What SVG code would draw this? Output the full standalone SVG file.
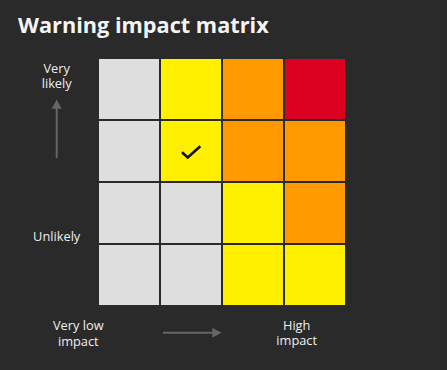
<svg xmlns="http://www.w3.org/2000/svg" width="447" height="370" viewBox="0 0 447 370">
<defs>
<style>
.lbl{font-family:"Open Sans","Liberation Sans",sans-serif;font-size:12.8px;fill:#eeeeee;text-anchor:middle}
.g{fill:#dedede}.y{fill:#fff000}.o{fill:#ff9900}.r{fill:#dc0021}
.ax{stroke:#666666;stroke-width:2;fill:none}
</style>
</defs>
<rect width="447" height="370" fill="#2a2a2a"/>
<text x="18" y="33" font-family="Open Sans, Liberation Sans, sans-serif" font-weight="bold" font-size="21.7" fill="#f5f5f5">Warning impact matrix</text>
<g id="matrix">
<rect class="g" x="99" y="59" width="60" height="60"/>
<rect class="y" x="161" y="59" width="60" height="60"/>
<rect class="o" x="223" y="59" width="60" height="60"/>
<rect class="r" x="285" y="59" width="60" height="60"/>
<rect class="g" x="99" y="121" width="60" height="60"/>
<rect class="y" x="161" y="121" width="60" height="60"/>
<rect class="o" x="223" y="121" width="60" height="60"/>
<rect class="o" x="285" y="121" width="60" height="60"/>
<rect class="g" x="99" y="183" width="60" height="60"/>
<rect class="g" x="161" y="183" width="60" height="60"/>
<rect class="y" x="223" y="183" width="60" height="60"/>
<rect class="o" x="285" y="183" width="60" height="60"/>
<rect class="g" x="99" y="245" width="60" height="60"/>
<rect class="g" x="161" y="245" width="60" height="60"/>
<rect class="y" x="223" y="245" width="60" height="60"/>
<rect class="y" x="285" y="245" width="60" height="60"/>
<path d="M182 152.3 L187.7 157.5 L200.3 146.2" fill="none" stroke="#111" stroke-width="2.6"/>
</g>
<g id="axes">
<line class="ax" x1="56.7" y1="158" x2="56.7" y2="107"/>
<polygon points="56.7,99.5 61.7,108.7 51.7,108.7" fill="#666666"/>
<line class="ax" x1="163" y1="332.7" x2="213" y2="332.7"/>
<polygon points="221.5,332.7 212.3,327.7 212.3,337.7" fill="#666666"/>
</g>
<g id="labels">
<text class="lbl" x="56.7" y="72.7">Very</text>
<text class="lbl" x="56.7" y="88">likely</text>
<text class="lbl" x="56.7" y="241">Unlikely</text>
<text class="lbl" x="78.3" y="330.3">Very low</text>
<text class="lbl" x="78.3" y="345.7">impact</text>
<text class="lbl" x="296.7" y="329.8">High</text>
<text class="lbl" x="296.7" y="345.2">impact</text>
</g>
</svg>
